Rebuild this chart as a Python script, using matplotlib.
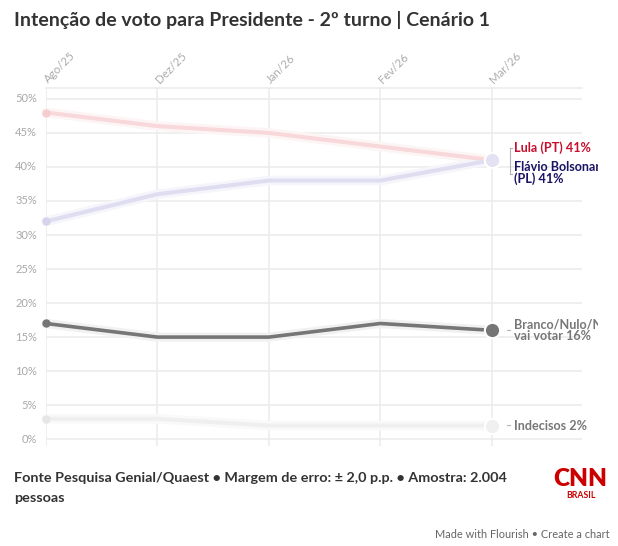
import numpy as np
import matplotlib.pyplot as plt
from matplotlib.patches import Rectangle

months = ["Ago/25", "Dez/25", "Jan/26", "Fev/26", "Mar/26"]
lula = [48, 46, 45, 43, 41]
flavio = [32, 36, 38, 38, 41]
branco = [17, 15, 15, 17, 16]
indecisos = [3, 3, 2, 2, 2]
yticks = [0, 5, 10, 15, 20, 25, 30, 35, 40, 45, 50]

W, H = 618, 546
plt.rcParams['font.family'] = ['Lato', 'DejaVu Sans']

fig = plt.figure(figsize=(W / 100, H / 100), dpi=100)
fig.patch.set_facecolor("white")


def fx(px):
    return px / W


def fy(py):
    return 1 - py / H


# plot area in pixels: x 46..582, y 88..446
ax = fig.add_axes([fx(46), fy(446), fx(582 - 46), (446 - 88) / H])
x = np.arange(len(months))
ax.set_xlim(0, 4.81)
ax.set_ylim(-1, 51.6)
for s in ax.spines.values():
    s.set_visible(False)
ax.set_xticks([])
ax.set_yticks([])

grid_c = "#ececec"
for v in yticks:
    ax.axhline(v, color=grid_c, lw=1.2, zorder=0)
ax.axhline(51.6, color=grid_c, lw=1.2, zorder=0, clip_on=False)
for xi in x:
    ax.axvline(xi, color=grid_c, lw=1.2, zorder=0)

for v in yticks:
    ax.text(-0.08, v, f"{v}%", ha="right", va="center", fontsize=8,
            color="#a8a8a8")
for xi, m in zip(x, months):
    ax.annotate(m, xy=(xi, 51.6), xytext=(0, 5), textcoords="offset points",
                rotation=45, rotation_mode="anchor", ha="left", va="center",
                fontsize=8.3, color="#ababab")

# series
series = [
    (lula, "#f8d8da", "#fdf5f5", 2.9, "#f5cdd0", "#e4e2f2"),
    (flavio, "#dfddf0", "#f6f5fb", 2.9, "#d6d4ec", "#e4e2f2"),
    (branco, "#767676", "#f1f1f1", 2.6, "#767676", "#767676"),
    (indecisos, "#efefef", "#f9f9f9", 2.9, "#e6e6e6", "#f0f0f0"),
]
for vals, col, halo, lw, start_c, end_c in series:
    ax.plot(x, vals, color=halo, lw=lw + 4, solid_capstyle="round",
            solid_joinstyle="round", zorder=2, clip_on=False)
    ax.plot(x, vals, color=col, lw=lw, solid_capstyle="round",
            solid_joinstyle="round", zorder=3, clip_on=False)
    ax.plot(x[0], vals[0], "o", color=start_c, ms=6, mec="none", zorder=4,
            clip_on=False)
    ax.plot(x[-1], vals[-1], "o", color=end_c, ms=11, mec="white", mew=1.5,
            zorder=5, clip_on=False)

# end labels
clip = Rectangle((0, 0), 598, H, transform=None, visible=False)
fig.patches.append(clip)


def label(yval, dy, text, color, dx=16):
    t = ax.annotate(text, xy=(x[-1], yval), xytext=(dx, dy),
                    textcoords="offset points", ha="left", va="center",
                    fontsize=9.1, fontweight="bold", color=color,
                    linespacing=0.95, annotation_clip=False)
    t.set_clip_path(clip)
    return t


label(lula[-1], 9, "Lula (PT) 41%", "#c8102e")
label(flavio[-1], -9, "Flávio Bolsonaro\n(PL) 41%", "#1b1464")
label(branco[-1], 0, "Branco/Nulo/Não\nvai votar 16%", "#777777")
label(indecisos[-1], 0, "Indecisos 2%", "#777777")

# bracket and dashes
fig.add_artist(plt.Line2D([fx(510), fx(510)], [fy(148), fy(174)],
                          color="#b5b5b5", lw=0.8))
fig.add_artist(plt.Line2D([fx(510), fx(512)], [fy(148), fy(148)],
                          color="#b5b5b5", lw=0.8))
fig.add_artist(plt.Line2D([fx(510), fx(512)], [fy(174), fy(174)],
                          color="#b5b5b5", lw=0.8))
for yy in [330, 425]:
    fig.add_artist(plt.Line2D([fx(507), fx(510)], [fy(yy), fy(yy)],
                              color="#b5b5b5", lw=0.8))

# titles and footer
fig.text(fx(14), fy(20), "Intenção de voto para Presidente - 2º turno | Cenário 1",
         ha="left", va="center", fontsize=14, fontweight="bold",
         color="#333333")
fig.text(fx(14), fy(488),
         "Fonte Pesquisa Genial/Quaest • Margem de erro: ± 2,0 p.p. • Amostra: 2.004\npessoas",
         ha="left", va="center", fontsize=10.4, fontweight="bold",
         color="#333333", linespacing=1.7)
fig.text(fx(580), fy(479), "CNN", ha="center", va="center", fontsize=17.5,
         fontweight="heavy", color="#cc0000")
fig.text(fx(581), fy(496), "BRASIL", ha="center", va="center", fontsize=6.3,
         fontweight="bold", color="#cc0000")
fig.text(fx(610), fy(535), "Made with Flourish • Create a chart", ha="right",
         va="center", fontsize=7.9, color="#666666")

fig.savefig("out.png", dpi=100, facecolor="white")
